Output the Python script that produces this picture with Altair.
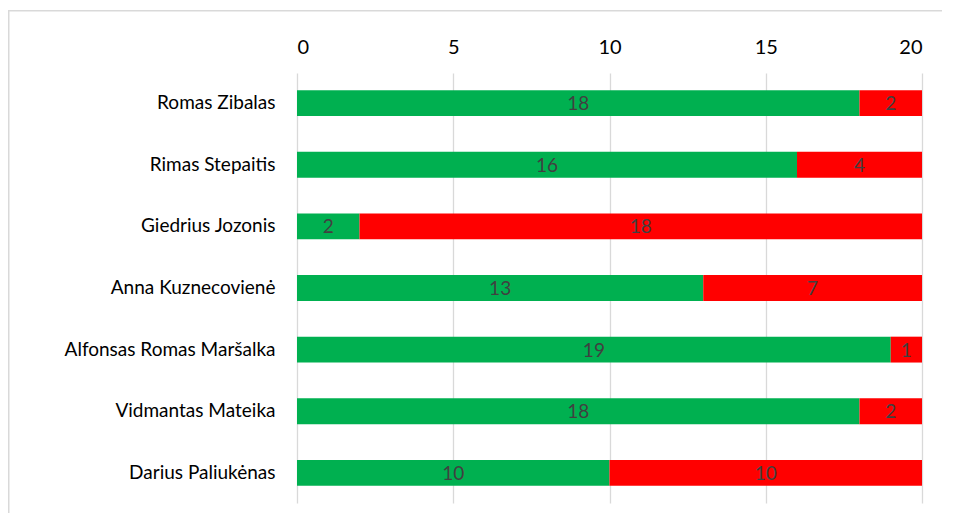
import altair as alt
import pandas as pd

names = ["Romas Zibalas", "Rimas Stepaitis", "Giedrius Jozonis", "Anna Kuznecovienė",
         "Alfonsas Romas Maršalka", "Vidmantas Mateika", "Darius Paliukėnas"]
green_vals = [18, 16, 2, 13, 19, 18, 10]
red_vals = [2, 4, 18, 7, 1, 2, 10]
series = ["Už", "Prieš"]
colors = ["#00B050", "#FF0000"]
x_ticks = [0, 5, 10, 15, 20]

rows = []
for n, g, r in zip(names, green_vals, red_vals):
    rows.append({"name": n, "series": series[0], "ord": 0, "value": g})
    rows.append({"name": n, "series": series[1], "ord": 1, "value": r})
df = pd.DataFrame(rows)

FONT = "Lato"

base = alt.Chart(df).transform_stack(
    stack="value", groupby=["name"], as_=["start", "end"],
    sort=[alt.SortField("ord", order="ascending")]
).transform_calculate(mid="(datum.start + datum.end) / 2")

yenc = alt.Y("name:N", sort=names, title=None,
             scale=alt.Scale(paddingInner=0.58, paddingOuter=0.28),
             axis=alt.Axis(domain=False, ticks=False, grid=False, labelFont=FONT,
                           labelFontSize=19, labelColor="#000000", labelPadding=22,
                           labelLimit=400))

bars = base.mark_bar().encode(
    x=alt.X("start:Q", title=None,
            scale=alt.Scale(domain=[0, 20], nice=False),
            axis=alt.Axis(orient="top", values=x_ticks, domain=False, ticks=False,
                          grid=True, gridColor="#d9d9d9", gridWidth=1.3,
                          labelFont=FONT, labelFontSize=20, labelColor="#000000",
                          labelPadding=16, format="d")),
    x2="end:Q",
    y=yenc,
    color=alt.Color("series:N", scale=alt.Scale(domain=series, range=colors), legend=None),
)

labels = base.mark_text(font=FONT, fontSize=19, color="#404040", baseline="middle", dy=1).encode(
    x="mid:Q",
    y=alt.Y("name:N", sort=names),
    text="value:Q",
)

frame = alt.Chart(pd.DataFrame({"a": [0]}))
border_top = frame.mark_rect(color="#d9d9d9", strokeWidth=0).encode(
    x=alt.value(-288), x2=alt.value(700), y=alt.value(-63), y2=alt.value(-61.5)
)
border_left = frame.mark_rect(color="#d9d9d9", strokeWidth=0).encode(
    x=alt.value(-289), x2=alt.value(-287.5), y=alt.value(-63), y2=alt.value(500)
)

chart = alt.layer(border_top, border_left, bars, labels).properties(
    width=625, height=430,
    autosize=alt.AutoSizeParams(type="none"),
    padding={"left": 289, "top": 65, "right": 20, "bottom": 10},
).configure_view(stroke=None)

chart.save("out.html", embed_options={"renderer": "svg", "actions": False})
